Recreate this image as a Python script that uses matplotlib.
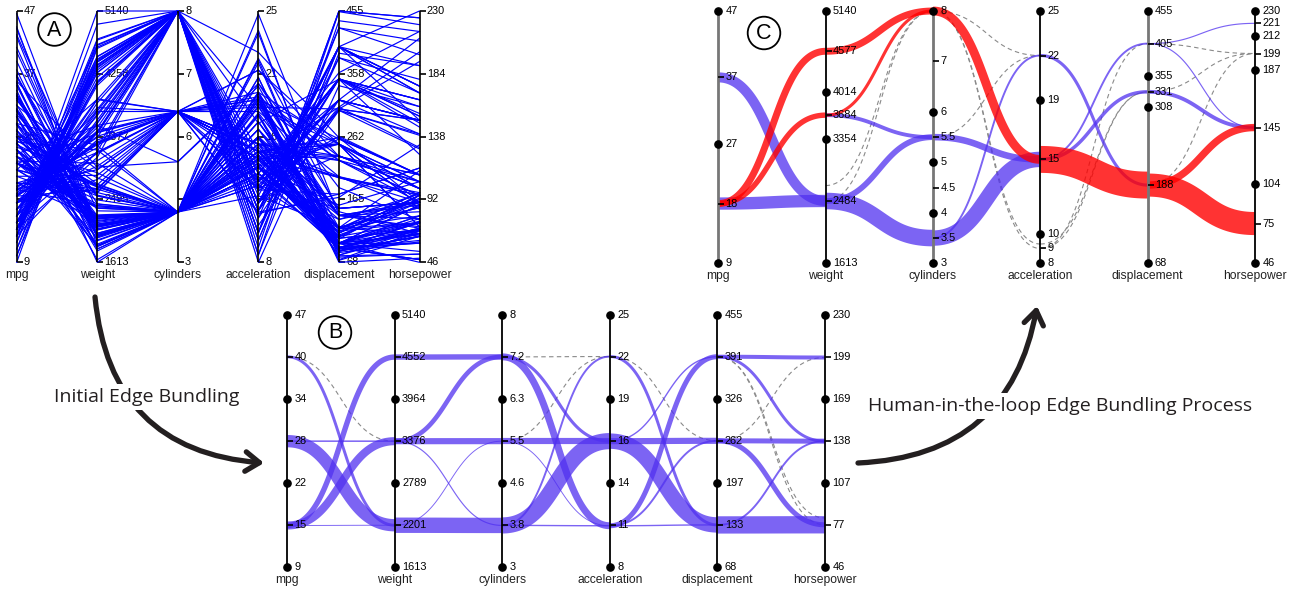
import numpy as np
import matplotlib.pyplot as plt
from matplotlib.patches import Circle, FancyArrowPatch

plt.rcParams['font.family'] = ['Liberation Sans', 'DejaVu Sans']

W, H = 1296, 592

dims = ["mpg", "weight", "cylinders", "acceleration", "displacement", "horsepower"]
lo = [9, 1613, 3, 8, 68, 46]
hi = [47, 5140, 8, 25, 455, 230]

# ---- panel A: raw auto-mpg records (one list per dimension, same order)
a_mpg = [18, 15, 18, 16, 17, 15, 14, 14, 14, 15, 15, 14, 15, 14, 24, 22, 18, 21, 27, 26,
         25, 24, 25, 26, 21, 10, 10, 11, 9, 27, 28, 25, 19, 16, 17, 19, 18, 14, 14, 14,
         14, 12, 13, 13, 18, 22, 19, 18, 23, 28, 30, 30, 31, 35, 27, 26, 24, 25, 23, 20,
         21, 13, 14, 15, 14, 17, 11, 13, 12, 13,
         31, 32, 28, 24, 26, 24, 26, 31, 19, 18, 15, 15, 16, 15, 16, 14, 17, 16, 15, 18,
         21, 20, 13, 29, 23, 20, 23, 24, 25, 24,
         43.1, 36.1, 32.8, 39.4, 36.1, 19.9, 19.4, 20.2, 19.2, 20.5,
         31.9, 34.1, 35.7, 27.4, 25.4, 23, 27.2, 23.9, 34.2, 34.5, 31.8, 37.3, 28.4, 28.8,
         26.8, 33.5, 41.5, 38.1, 32.1, 37.2, 28, 26.4, 24.3, 19.1, 34.3, 29.8, 31.3, 37,
         32.2, 46.6, 27.9, 40.8, 44.3, 43.4, 36.4, 30, 44.6, 33.8, 29.8, 32.7,
         16, 29]
a_cyl = [8, 8, 8, 8, 8, 8, 8, 8, 8, 8, 8, 8, 8, 8, 4, 6, 6, 6, 4, 4,
         4, 4, 4, 4, 6, 8, 8, 8, 8, 4, 4, 4, 6, 6, 6, 6, 6, 8, 8, 8,
         8, 8, 8, 8, 6, 4, 6, 6, 4, 4, 4, 4, 4, 4, 4, 4, 4, 4, 4, 4,
         4, 8, 8, 8, 8, 8, 8, 8, 8, 8,
         4, 4, 4, 4, 4, 4, 4, 4, 6, 6, 6, 6, 8, 8, 8, 8, 6, 6, 6, 6,
         6, 8, 8, 4, 4, 6, 4, 4, 4, 4,
         4, 4, 4, 4, 4, 8, 8, 8, 6, 6,
         4, 4, 4, 4, 5, 8, 4, 8, 4, 4, 4, 4, 4, 6, 6, 4, 4, 4, 4, 4,
         4, 4, 4, 6, 4, 4, 4, 4, 4, 4, 4, 4, 4, 4, 5, 4, 4, 4, 4, 6,
         8, 4]
a_disp = [307, 350, 318, 304, 302, 429, 454, 440, 455, 390, 383, 340, 400, 455, 113, 198, 199, 200, 97, 97,
          110, 107, 104, 121, 199, 360, 307, 318, 304, 97, 140, 113, 232, 225, 250, 250, 232, 350, 400, 351,
          318, 383, 400, 400, 258, 140, 250, 250, 122, 116, 79, 88, 71, 72, 97, 91, 113, 97.5, 97, 140,
          122, 350, 400, 318, 351, 304, 429, 350, 350, 400,
          76, 83, 90, 90, 116, 120, 108, 79, 225, 250, 250, 250, 400, 350, 318, 351, 231, 250, 258, 225,
          231, 262, 302, 97, 140, 232, 140, 134, 90, 119,
          90, 98, 78, 85, 91, 260, 318, 302, 231, 200,
          89, 86, 98, 121, 183, 350, 141, 260, 105, 105, 85, 91, 151, 173, 173, 151, 98, 89, 98, 86,
          151, 140, 151, 225, 97, 134, 120, 119, 108, 86, 156, 85, 90, 90, 121, 146, 91, 97, 89, 168,
          400, 68]
a_hp = [130, 165, 150, 150, 140, 198, 220, 215, 225, 190, 170, 160, 150, 225, 95, 95, 97, 85, 88, 46,
        87, 90, 95, 113, 90, 215, 200, 210, 193, 88, 90, 95, 100, 105, 100, 88, 100, 165, 175, 153,
        150, 180, 170, 175, 110, 72, 100, 88, 86, 90, 70, 76, 65, 69, 60, 70, 95, 80, 54, 90,
        86, 165, 175, 150, 153, 150, 208, 155, 160, 190,
        52, 61, 75, 75, 75, 97, 93, 67, 95, 105, 72, 72, 170, 145, 150, 148, 110, 105, 110, 95,
        110, 110, 129, 75, 83, 100, 78, 96, 71, 97,
        48, 66, 52, 70, 60, 110, 140, 139, 105, 95,
        71, 65, 80, 80, 77, 125, 71, 90, 70, 70, 65, 69, 90, 115, 115, 90, 76, 60, 70, 65,
        90, 88, 90, 90, 78, 90, 75, 92, 75, 65, 105, 65, 48, 48, 67, 67, 67, 67, 62, 132,
        230, 49]
a_weight = [3504, 3693, 3436, 3433, 3449, 4341, 4354, 4312, 4425, 3850, 3563, 3609, 3761, 3086, 2372, 2833,
            2774, 2587, 2130, 1835, 2672, 2430, 2375, 2234, 2648, 4615, 4376, 4382, 4732, 2130, 2264, 2228,
            2634, 3439, 3329, 3302, 3288, 4209, 4464, 4154, 4096, 4955, 4746, 5140, 2962, 2408, 3282, 3139,
            2220, 2123, 2074, 2065, 1773, 1613, 1834, 1955, 2278, 2126, 2254, 2408, 2226, 4274, 4385, 4135,
            4129, 3672, 4633, 4502, 4456, 4422,
            1649, 2003, 2125, 2108, 2246, 2489, 2391, 2000, 3264, 3459, 3432, 3158, 4668, 4440, 4498, 4657,
            3907, 3897, 3730, 3785, 3039, 3221, 3169, 2171, 2639, 2914, 2592, 2702, 2223, 2545,
            1985, 1800, 1985, 2070, 1800, 3365, 3735, 3570, 3535, 3155,
            1925, 1975, 1915, 2670, 3530, 3900, 3190, 3420, 2200, 2150, 2020, 2130, 2670, 2595, 2700, 2556,
            2144, 1968, 2120, 2019, 2678, 2870, 3003, 3381, 2188, 2711, 2542, 2434, 2265, 2110, 2800, 2110,
            2085, 2335, 2950, 3250, 1850, 2145, 1845, 2910,
            4278, 1867]
a_acc = [12, 11.5, 11, 12, 10.5, 10, 9, 8.5, 10, 8.5, 10, 8, 9.5, 10, 15, 15.5, 15.5, 16, 14.5, 20.5,
         17.5, 14.5, 17.5, 12.5, 15, 14, 15, 13.5, 18.5, 14.5, 15.5, 14, 13, 15.5, 15.5, 15.5, 15.5, 12, 11.5, 13.5,
         13, 11.5, 12, 12, 13.5, 19, 15, 14.5, 14, 14, 19.5, 14.5, 19, 18, 19, 20.5, 15.5, 17, 23.5, 19.5,
         16.5, 12, 12, 13.5, 13, 11.5, 11, 13.5, 13.5, 12.5,
         16.5, 19, 14.5, 15.5, 14, 15, 15.5, 16, 16, 16, 21, 19.5, 11.5, 14, 14.5, 13.5, 21, 18.5, 19, 19,
         15, 13.5, 12, 16, 17, 16, 18.5, 13.5, 16.5, 17,
         21.5, 14.4, 19.4, 18.6, 16.4, 15.5, 13.2, 12.8, 19.2, 18.2,
         14, 15.2, 14.4, 15, 20.1, 17.4, 24.8, 22.2, 13.2, 14.9, 19.2, 14.7, 16, 11.3, 12.9, 13.2, 14.7, 18.8,
         15.5, 16.4, 16.5, 18.1, 20.1, 18.7, 15.8, 15.5, 17.5, 15, 15.2, 17.9, 14.4, 19.2, 21.7, 23.7, 19.9,
         21.8, 13.8, 18, 15.3, 11.4,
         9.5, 19.5]

a_labels = [["9", "18", "28", "37", "47"], ["1613", "2495", "3377", "4258", "5140"],
            ["3", "4", "6", "7", "8"], ["8", "12", "16", "21", "25"],
            ["68", "165", "262", "358", "455"], ["46", "92", "138", "184", "230"]]

# ---- panel B: initial bundling, 3 clusters per axis
b_labels = [["9", "15", "22", "28", "34", "40", "47"],
            ["1613", "2201", "2789", "3376", "3964", "4552", "5140"],
            ["3", "3.8", "4.6", "5.5", "6.3", "7.2", "8"],
            ["8", "11", "14", "16", "19", "22", "25"],
            ["68", "133", "197", "262", "326", "391", "455"],
            ["46", "77", "107", "138", "169", "199", "230"]]

# (left value, right value, cars)
b_mpg_weight = [(40.7, 2201, 38), (28, 2201, 160), (28, 3376, 20),
                (15.3, 4552, 70), (15.3, 3376, 105), (15.3, 2201, 12)]
b_weight_cyl = [(4552, 7.17, 70), (3376, 7.17, 60), (3376, 5.5, 80),
                (3376, 3.83, 15), (2201, 5.5, 12), (2201, 3.83, 200)]
b_cyl_acc = [(7.17, 10.8, 90), (7.17, 16.5, 40), (5.5, 16.5, 80), (5.5, 10.8, 12),
             (3.83, 22.2, 25), (3.83, 16.5, 210), (3.83, 10.8, 18)]
b_acc_disp = [(22.2, 133, 38), (16.5, 391, 18), (16.5, 262, 80), (16.5, 133, 200),
              (10.8, 391, 65), (10.8, 262, 25), (10.8, 133, 18)]
b_disp_hp = [(391, 199, 52), (391, 138, 38), (262, 138, 65), (262, 77, 65),
             (133, 138, 25), (133, 77, 225)]
b_bundles = [b_mpg_weight, b_weight_cyl, b_cyl_acc, b_acc_disp, b_disp_hp]
b_dashed = [[(40.7, 3376)], [], [(7.17, 22.2), (5.5, 22.2)], [(22.2, 262)],
            [(391, 77), (391, 82), (262, 199)]]

# ---- panel C: after human-in-the-loop refinement
c_dots = [[47, 27, 9], [5140, 4014, 3354, 1613], [8, 6, 5, 4, 3],
          [25, 19, 10, 8], [455, 355, 308, 68], [230, 212, 187, 104, 46]]
c_dashes = [[37, 18], [4577, 3684, 2484], [7, 5.5, 4.5, 3.5],
            [22, 15, 9], [405, 331, 188], [221, 199, 145, 75]]

c_blue = [[(37, 2484, 130), (18, 2484, 160)],
          [(3684, 5.5, 50), (2484, 5.5, 75), (2484, 3.5, 215)],
          [(5.5, 15, 85), (3.5, 15, 200), (3.5, 22, 25)],
          [(22, 188, 40), (15, 405, 25), (15, 331, 45)],
          [(405, 221, 15), (405, 145, 15), (331, 145, 50)]]
c_red = [[(18, 4577, 90), (18, 3684, 70)],
         [(4577, 8, 90), (3684, 8, 40)],
         [(8, 15, 115)],
         [(15, 188, 350)],
         [(188, 145, 95), (188, 75, 300)]]
c_dashed = [[],
            [(2484, 8), (2700, 8)],
            [(8, 22), (8, 9), (8, 9.3), (5.5, 22)],
            [(9, 405), (9, 331), (9.3, 331)],
            [(405, 199), (331, 199), (188, 199)]]

PX_PER_CAR = 1 / 13.0
BLUE = "#5030f0"
RED = "#ff0000"

fig = plt.figure(figsize=(W / 100, H / 100), dpi=100)


def make_panel(x0, x5, ytop, ybot):
    ax = fig.add_axes([x0 / W, 1 - ybot / H, (x5 - x0) / W, (ybot - ytop) / H])
    ax.set_xlim(0, 5)
    ax.set_ylim(0, 1)
    ax.axis("off")
    return ax


def nrm(i, v):
    return (np.asarray(v, dtype=float) - lo[i]) / (hi[i] - lo[i])


def s_curve(i, v0, v1, n=80):
    t = np.linspace(0, 1, n)
    y0, y1 = nrm(i, v0), nrm(i + 1, v1)
    x = i + 0.5 * (3 * (1 - t) ** 2 * t + 3 * (1 - t) * t ** 2) + t ** 3
    y = y0 + (y1 - y0) * (3 * (1 - t) * t ** 2 + t ** 3)
    return x, y


def band(ax, i, v0, v1, cars, color, alpha):
    x, y = s_curve(i, v0, v1)
    ax.plot(x, y, color=color, alpha=alpha, lw=cars * PX_PER_CAR * 0.72,
            solid_capstyle="butt", zorder=2, clip_on=False)


def dashed(ax, i, v0, v1):
    x, y = s_curve(i, v0, v1)
    ax.plot(x, y, color="#8a8a8a", lw=0.8, ls=(0, (4, 3)), zorder=1.5, clip_on=False)


def tick(ax, i, v, label, kind, z=6):
    y = nrm(i, v)
    if kind == "dot":
        ax.plot(i, y, "o", ms=5.2, color="k", zorder=z, clip_on=False)
    else:
        ax.plot(i, y, marker=1, ms=4.6, mew=1.2, color="k", zorder=z, clip_on=False)
    ax.annotate(label, (i, y), xytext=(5.2, 0), textcoords="offset points",
                ha="left", va="center", fontsize=7.9, zorder=z, annotation_clip=False)


def axes_lines(ax, colors, widths):
    for i, name in enumerate(dims):
        ax.plot([i, i], [0, 1], color=colors[i], lw=widths[i], zorder=3,
                solid_capstyle="butt", clip_on=False)
        ax.annotate(name, (i, 0), xytext=(0, -9.5), textcoords="offset points",
                    ha="center", va="center", fontsize=8.7, color="#222222",
                    annotation_clip=False)


# ---- A
axA = make_panel(16.7, 419.5, 11, 262.3)
a_cols = [a_mpg, a_weight, a_cyl, a_acc, a_disp, a_hp]
a_norm = np.array([nrm(i, c) for i, c in enumerate(a_cols)])
for k in range(a_norm.shape[1]):
    axA.plot(range(6), a_norm[:, k], color="#0000ff", lw=0.85, alpha=1.0, zorder=1, clip_on=False)
axes_lines(axA, ["k"] * 6, [1.2] * 6)
for i in range(6):
    for v, lab in zip(np.linspace(lo[i], hi[i], 5), a_labels[i]):
        tick(axA, i, v, lab, "dash", z=0.5)

# ---- B
axB = make_panel(287.3, 825, 315, 567.3)
for i, seg in enumerate(b_bundles):
    for v0, v1, cars in seg:
        band(axB, i, v0, v1, cars, BLUE, 0.75)
    for v0, v1 in b_dashed[i]:
        dashed(axB, i, v0, v1)
axes_lines(axB, ["k"] * 6, [1.3] * 6)
for i in range(6):
    for j, (v, lab) in enumerate(zip(np.linspace(lo[i], hi[i], 7), b_labels[i])):
        tick(axB, i, v, lab, "dot" if j % 2 == 0 else "dash")

# ---- C
axC = make_panel(718.3, 1255, 11, 263.3)
for i in range(5):
    for v0, v1 in c_dashed[i]:
        dashed(axC, i, v0, v1)
    for v0, v1, cars in c_blue[i]:
        band(axC, i, v0, v1, cars, BLUE, 0.75)
for i in range(5):
    for v0, v1, cars in c_red[i]:
        band(axC, i, v0, v1, cars, RED, 0.8)
axes_lines(axC, ["#777777", "k", "#777777", "k", "#777777", "k"], [2.0, 1.3, 2.0, 1.3, 2.0, 1.3])
for i in range(6):
    for v in c_dots[i]:
        tick(axC, i, v, f"{v:g}", "dot")
    for v in c_dashes[i]:
        tick(axC, i, v, f"{v:g}", "dash")

# ---- overlay: panel letters, arrows, captions (pixel coordinates)
ov = fig.add_axes([0, 0, 1, 1])
ov.set_xlim(0, W)
ov.set_ylim(H, 0)
ov.axis("off")

for x, y, letter in [(54.5, 29.5, "A"), (335, 332.5, "B"), (764, 33, "C")]:
    ov.add_patch(Circle((x, y), 16.3, fill=False, lw=1.3, ec="k"))
    ov.text(x, y + 0.5, letter, ha="center", va="center", fontsize=15.5)

ink = "#231f20"
for start, end, rad in [((95, 297), (264, 463), 0.42), ((858, 463), (1037, 306), 0.4)]:
    ov.add_patch(FancyArrowPatch(start, end, connectionstyle=f"arc3,rad={rad}",
                                 arrowstyle="->,head_length=1.0,head_width=0.7",
                                 mutation_scale=10, lw=3.8, color=ink,
                                 shrinkA=0, shrinkB=0, zorder=2))

cap = dict(family=["Open Sans", "DejaVu Sans"], fontsize=14, ha="center", va="center",
           color=ink, zorder=3, bbox=dict(fc="white", ec="none", pad=3))
ov.text(147, 397, "Initial Edge Bundling", **cap)
ov.text(1060, 406, "Human-in-the-loop Edge Bundling Process", **cap)

fig.savefig("out.png", dpi=100)
